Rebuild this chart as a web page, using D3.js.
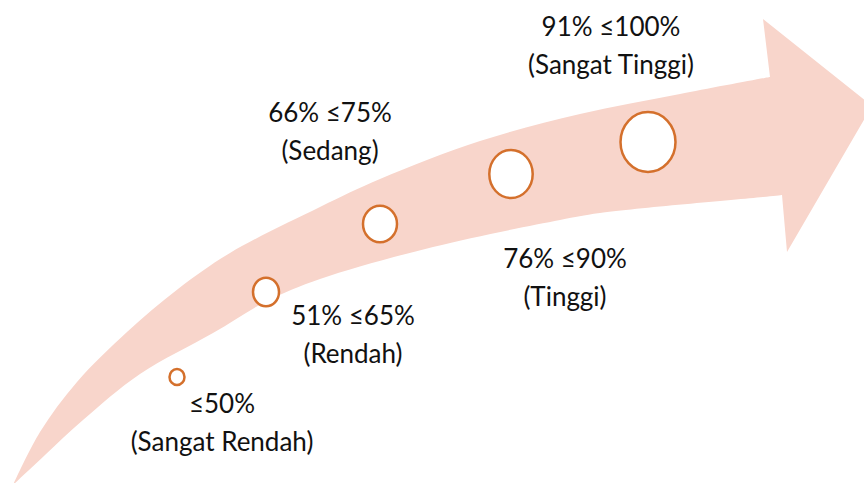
<!DOCTYPE html>
<html>
<head>
<meta charset="utf-8">
<script src="https://cdn.jsdelivr.net/npm/d3@7"></script>
<style>
  body { margin: 0; background: #fff; }
  #chart-container { width: 864px; height: 483px; overflow: hidden; }
  text { font-family: Lato, "Open Sans", sans-serif; }
</style>
</head>
<body>
<div id="chart-container"></div>
<script>
// Level labels and category names, from low to high
const levels = ["≤50%", "51% ≤65%", "66% ≤75%", "76% ≤90%", "91% ≤100%"];
const categories = ["(Sangat Rendah)", "(Rendah)", "(Sedang)", "(Tinggi)", "(Sangat Tinggi)"];

// Marker centres and radii along the arrow (picture units)
const markerX = [177, 266, 380, 511, 648];
const markerY = [377, 292, 224, 174, 142];
const markerRx = [7.5, 13, 17, 21.7, 27.5];
const markerRy = [8, 14.3, 18.3, 24, 30];

// Label anchors (centre x, first-line baseline y)
const labelX = [222, 353, 330, 565, 611];
const labelY = [413, 325, 122, 268, 36];

// Arrow outline: upper edge (tail -> shaft), head, lower edge (shaft -> tail)
const upperEdge = [[13, 485], [40, 432], [77, 382], [127, 332], [178, 289], [230, 253], [320, 207],
  [380, 179], [480, 141], [580, 114], [680, 94], [770, 77]];
const headPts = [[763, 19], [872, 106], [787, 252], [782, 195]];
const lowerEdge = [[782, 195], [763, 197], [600, 213], [560, 220], [433, 247], [320, 279], [267, 301],
  [213, 333], [140, 374], [83, 420], [45, 455], [13, 485]];

const width = 864, height = 483;

const x = d3.scaleLinear().domain([0, 864]).range([0, width]);
const y = d3.scaleLinear().domain([0, 483]).range([0, height]);

const svg = d3.select("#chart-container")
  .append("svg")
  .attr("width", width)
  .attr("height", height);

// Build the arrow path
const curve = d3.line()
  .x(d => x(d[0]))
  .y(d => y(d[1]))
  .curve(d3.curveCatmullRom.alpha(0.5));

const upperPath = curve(upperEdge);
const headPath = headPts.map(d => `L${x(d[0])},${y(d[1])}`).join("");
const lowerPath = curve(lowerEdge).replace(/^M/, "L");

svg.append("path")
  .attr("d", upperPath + headPath + lowerPath + "Z")
  .attr("fill", "#f8d5cb");

// Markers
svg.selectAll(".marker")
  .data(levels)
  .enter().append("ellipse")
  .attr("class", "marker")
  .attr("cx", (d, i) => x(markerX[i]))
  .attr("cy", (d, i) => y(markerY[i]))
  .attr("rx", (d, i) => markerRx[i])
  .attr("ry", (d, i) => markerRy[i])
  .attr("fill", "#fff")
  .attr("stroke", "#d4702c")
  .attr("stroke-width", 2.5);

// Labels
const labels = svg.selectAll(".label")
  .data(levels)
  .enter().append("text")
  .attr("class", "label")
  .attr("text-anchor", "middle")
  .style("font-size", "26px")
  .style("fill", "#111");

labels.append("tspan")
  .attr("x", (d, i) => x(labelX[i]))
  .attr("y", (d, i) => y(labelY[i]))
  .text(d => d);

labels.append("tspan")
  .attr("x", (d, i) => x(labelX[i]))
  .attr("y", (d, i) => y(labelY[i]) + 38)
  .text((d, i) => categories[i]);
</script>
</body>
</html>
